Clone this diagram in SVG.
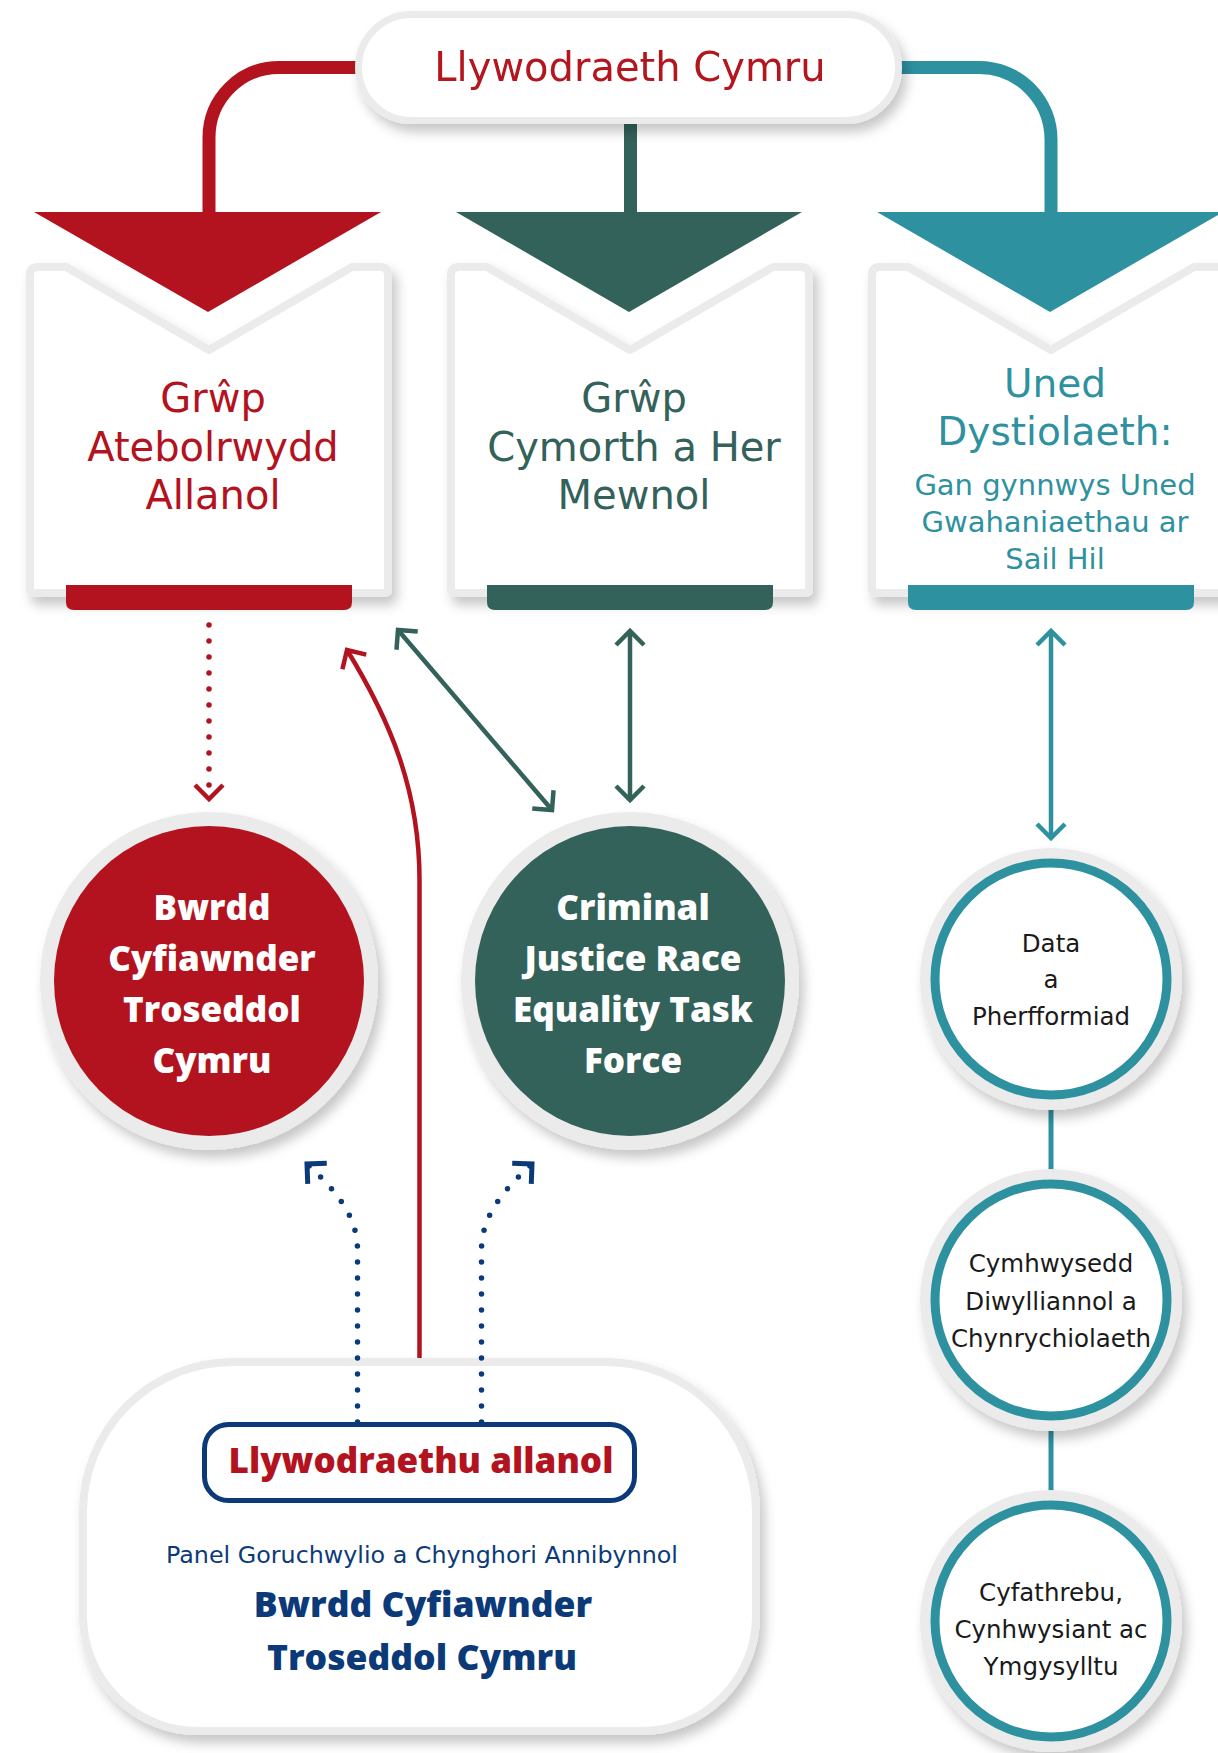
<svg xmlns="http://www.w3.org/2000/svg" width="1218" height="1753" viewBox="0 0 1218 1753">
<style>
.rg{font-family:"DejaVu Sans","Liberation Sans",sans-serif;text-anchor:middle}
.bd{font-family:"Open Sans","DejaVu Sans",sans-serif;font-weight:800;text-anchor:middle}
.card{fill:#fff;stroke:#ebebeb;stroke-width:8;stroke-linejoin:round}
.ring{fill:#ebebeb}
.conn{fill:none;stroke-width:13}
.ar{fill:none;stroke-width:4.5}
.dot{fill:none;stroke-width:5.5;stroke-linecap:round;stroke-dasharray:0 16}
</style>
<defs>
<filter id="sh" x="-20%" y="-20%" width="150%" height="150%">
<feDropShadow dx="5" dy="8" stdDeviation="6" flood-color="#000" flood-opacity="0.22"/>
</filter>
<marker id="mR" markerUnits="userSpaceOnUse" markerWidth="40" markerHeight="40" viewBox="-20 -20 40 40" refX="0" refY="0" orient="auto-start-reverse"><path d="M-14,-14 L0,0 L-14,14" fill="none" stroke="#b3131e" stroke-width="4.5"/></marker>
<marker id="mG" markerUnits="userSpaceOnUse" markerWidth="40" markerHeight="40" viewBox="-20 -20 40 40" refX="0" refY="0" orient="auto-start-reverse"><path d="M-14,-14 L0,0 L-14,14" fill="none" stroke="#33625a" stroke-width="4.5"/></marker>
<marker id="mT" markerUnits="userSpaceOnUse" markerWidth="40" markerHeight="40" viewBox="-20 -20 40 40" refX="0" refY="0" orient="auto-start-reverse"><path d="M-14,-14 L0,0 L-14,14" fill="none" stroke="#2e91a0" stroke-width="4.5"/></marker>
<marker id="mN" markerUnits="userSpaceOnUse" markerWidth="40" markerHeight="40" viewBox="-20 -20 40 40" refX="0" refY="0" orient="auto-start-reverse"><path d="M-14,-14 L0,0 L-14,14" fill="none" stroke="#0c3a78" stroke-width="5"/></marker>
</defs>
<rect width="1218" height="1753" fill="#fff"/>

<g id="top-connectors">
<path class="conn" stroke="#b3131e" d="M360,67.5 H279 A70,70 0 0 0 209,137.5 V214"/>
<path class="conn" stroke="#2e91a0" d="M898,67.5 H979 A72,72 0 0 1 1051,139.5 V214"/>
<path class="conn" stroke="#33625a" d="M630.5,118 V214"/>
</g>

<g id="llywodraeth-cymru" filter="url(#sh)">
<rect x="358.5" y="14.5" width="540" height="106" rx="53" fill="#fff" stroke="#ebebeb" stroke-width="7"/>
<text class="rg" x="630" y="81" font-size="40" fill="#b3131e">Llywodraeth Cymru</text>
</g>

<g id="card-atebolrwydd">
<path class="card" filter="url(#sh)" d="M30,275 Q30,267 38,267 L66,267 L209,350 L352,267 L380,267 Q388,267 388,275 L388,589 Q388,593 384,593 L34,593 Q30,593 30,589 Z"/>
<path fill="#b3131e" d="M66,585 H352 V602 Q352,610 344,610 H74 Q66,610 66,602 Z"/>
<polygon fill="#b3131e" points="34,212 381,212 208,312"/>
<text class="rg" font-size="40" fill="#b3131e"><tspan x="213" y="412">Grŵp</tspan><tspan x="213" y="461">Atebolrwydd</tspan><tspan x="213" y="509">Allanol</tspan></text>
</g>

<g id="card-cymorth">
<path class="card" filter="url(#sh)" d="M451,275 Q451,267 459,267 L487,267 L630,350 L773,267 L801,267 Q809,267 809,275 L809,589 Q809,593 805,593 L455,593 Q451,593 451,589 Z"/>
<path fill="#33625a" d="M487,585 H773 V602 Q773,610 765,610 H495 Q487,610 487,602 Z"/>
<polygon fill="#33625a" points="456,212 802,212 629,312"/>
<text class="rg" font-size="40" fill="#33625a"><tspan x="634" y="412">Grŵp</tspan><tspan x="634" y="461">Cymorth a Her</tspan><tspan x="634" y="509">Mewnol</tspan></text>
</g>

<g id="card-uned">
<path class="card" filter="url(#sh)" d="M872,275 Q872,267 880,267 L908,267 L1051,350 L1194,267 L1222,267 Q1230,267 1230,275 L1230,589 Q1230,593 1226,593 L876,593 Q872,593 872,589 Z"/>
<path fill="#2e91a0" d="M908,585 H1194 V602 Q1194,610 1186,610 H916 Q908,610 908,602 Z"/>
<polygon fill="#2e91a0" points="877,212 1223,212 1050,312"/>
<text class="rg" font-size="39" fill="#2e91a0"><tspan x="1055" y="397">Uned</tspan><tspan x="1055" y="445">Dystiolaeth:</tspan></text>
<text class="rg" font-size="29" fill="#2e91a0"><tspan x="1055" y="495">Gan gynnwys Uned</tspan><tspan x="1055" y="532">Gwahaniaethau ar</tspan><tspan x="1055" y="569">Sail Hil</tspan></text>
</g>

<g id="bottom-box">
<path filter="url(#sh)" fill="#fff" stroke="#ebebeb" stroke-width="8" d="M233,1362 H606 A150,150 0 0 1 756,1512 V1616 A115,115 0 0 1 641,1731 H198 A115,115 0 0 1 83,1616 V1512 A150,150 0 0 1 233,1362 Z"/>
</g>

<g id="connectors">
<line class="dot" stroke="#b3131e" x1="209" y1="625" x2="209" y2="799" marker-end="url(#mR)"/>
<path class="ar" stroke="#b3131e" d="M419.5,1358 V880 C419.5,790 390,720 347,650" marker-end="url(#mR)"/>
<line class="ar" stroke="#33625a" x1="552" y1="810" x2="398" y2="630" marker-start="url(#mG)" marker-end="url(#mG)"/>
<line class="ar" stroke="#33625a" x1="630" y1="800" x2="630" y2="631" marker-start="url(#mG)" marker-end="url(#mG)"/>
<line class="ar" stroke="#2e91a0" x1="1051" y1="838" x2="1051" y2="631" marker-start="url(#mT)" marker-end="url(#mT)"/>
<line stroke="#2e91a0" stroke-width="5" x1="1051" y1="1095" x2="1051" y2="1185"/>
<line stroke="#2e91a0" stroke-width="5" x1="1051" y1="1415" x2="1051" y2="1505"/>
<path class="dot" stroke="#0c3a78" d="M357.5,1422 V1250 C357.5,1215 335,1190 307,1164" marker-end="url(#mN)"/>
<path class="dot" stroke="#0c3a78" d="M481.5,1422 V1250 C481.5,1215 504,1190 532,1164" marker-end="url(#mN)"/>
</g>

<g id="llywodraethu-allanol">
<rect x="204.5" y="1424.5" width="430" height="76" rx="24" fill="#fff" stroke="#0c3a78" stroke-width="5"/>
<text class="bd" x="421" y="1473" font-size="35" fill="#b3131e">Llywodraethu allanol</text>
<text class="rg" x="422" y="1563" font-size="23.8" fill="#0c3a78">Panel Goruchwylio a Chynghori Annibynnol</text>
<text class="bd" font-size="35.5" fill="#0c3a78"><tspan x="423" y="1617">Bwrdd Cyfiawnder</tspan><tspan x="422" y="1670">Troseddol Cymru</tspan></text>
</g>

<g id="bwrdd-cyfiawnder">
<circle class="ring" cx="209" cy="981" r="169" filter="url(#sh)"/>
<circle cx="209" cy="981" r="155" fill="#b3131e"/>
<text class="bd" font-size="35" fill="#fff"><tspan x="212" y="920">Bwrdd</tspan><tspan x="212" y="971">Cyfiawnder</tspan><tspan x="212" y="1022">Troseddol</tspan><tspan x="212" y="1073">Cymru</tspan></text>
</g>

<g id="cjret">
<circle class="ring" cx="630" cy="981" r="169" filter="url(#sh)"/>
<circle cx="630" cy="981" r="155" fill="#33625a"/>
<text class="bd" font-size="35" fill="#fff"><tspan x="633" y="920">Criminal</tspan><tspan x="633" y="971">Justice Race</tspan><tspan x="633" y="1022">Equality Task</tspan><tspan x="633" y="1073">Force</tspan></text>
</g>

<g id="data">
<circle class="ring" cx="1051" cy="979" r="131" filter="url(#sh)"/>
<circle cx="1051" cy="979" r="116" fill="#fff" stroke="#2e91a0" stroke-width="9"/>
<text class="rg" font-size="24.5" fill="#1a1a1a"><tspan x="1051" y="952">Data</tspan><tspan x="1051" y="988">a</tspan><tspan x="1051" y="1025">Pherfformiad</tspan></text>
</g>

<g id="cymhwysedd">
<circle class="ring" cx="1051" cy="1300" r="131" filter="url(#sh)"/>
<circle cx="1051" cy="1300" r="116" fill="#fff" stroke="#2e91a0" stroke-width="9"/>
<text class="rg" font-size="24.5" fill="#1a1a1a"><tspan x="1051" y="1272">Cymhwysedd</tspan><tspan x="1051" y="1310">Diwylliannol a</tspan><tspan x="1051" y="1347">Chynrychiolaeth</tspan></text>
</g>

<g id="cyfathrebu">
<circle class="ring" cx="1051" cy="1621" r="131" filter="url(#sh)"/>
<circle cx="1051" cy="1621" r="116" fill="#fff" stroke="#2e91a0" stroke-width="9"/>
<text class="rg" font-size="24.5" fill="#1a1a1a"><tspan x="1051" y="1601">Cyfathrebu,</tspan><tspan x="1051" y="1638">Cynhwysiant ac</tspan><tspan x="1051" y="1675">Ymgysylltu</tspan></text>
</g>
</svg>
